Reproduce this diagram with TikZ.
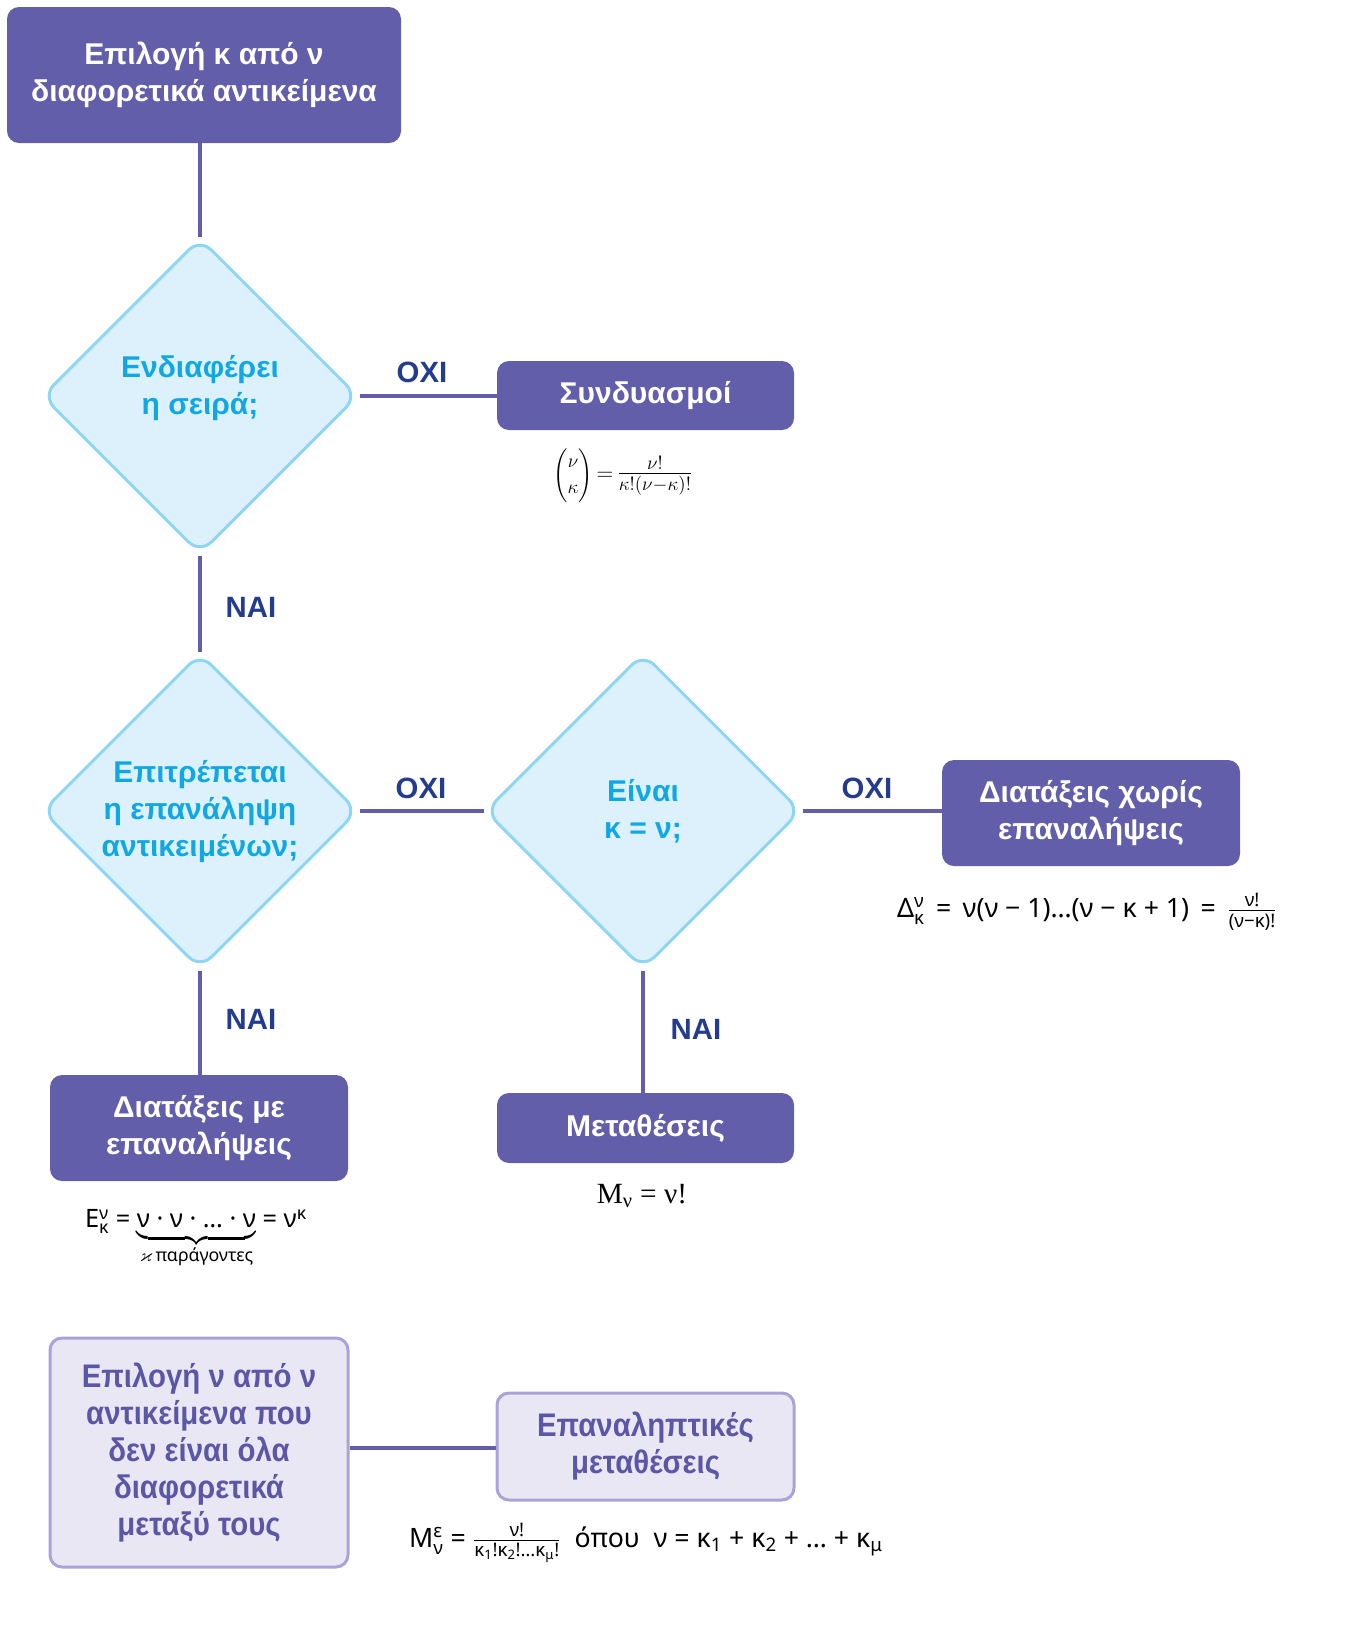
\documentclass[tikz,border=0pt]{standalone}
\usepackage{amsmath,amssymb}
\usepackage{fontspec}
\usetikzlibrary{shapes.geometric}
\newfontfamily\lsans{Liberation Sans}
\newfontfamily\nsans[FakeStretch=0.9]{Liberation Sans}
\newfontfamily\fsans{Noto Sans}
\newfontfamily\fserif{Liberation Serif}
\definecolor{pur}{RGB}{99,94,170}
\definecolor{diaf}{RGB}{220,241,251}
\definecolor{diad}{RGB}{142,214,244}
\definecolor{cyant}{RGB}{16,168,228}
\definecolor{navyt}{RGB}{36,60,142}
\definecolor{lavf}{RGB}{233,231,243}
\definecolor{lavd}{RGB}{171,163,214}
\definecolor{lavt}{RGB}{92,86,166}
\newcommand{\boxf}{\lsans\bfseries\fontsize{22.5}{27.75}\selectfont}
\newcommand{\nboxf}{\nsans\bfseries\fontsize{24.5}{27.75}\selectfont}
\newcommand{\lblf}{\lsans\bfseries\fontsize{22}{26}\selectfont}
\newcommand{\frmf}{\fsans\fontsize{19}{22}\selectfont}
\tikzset{
  pbox/.style={rectangle, fill=pur, rounded corners=9pt, text=white, font=\boxf, align=center, inner sep=0pt},
  lbox/.style={rectangle, draw=lavd, line width=2.25pt, fill=lavf, rounded corners=9pt, text=lavt, font=\nboxf, align=center, inner sep=0pt},
  dia/.style={diamond, aspect=1, draw=diad, line width=2.25pt, fill=diaf, rounded corners=12pt, text=cyant, font=\boxf, align=center, inner sep=0pt, minimum width=237pt, minimum height=237pt},
  conn/.style={draw=pur, line width=3pt},
  lbl/.style={font=\lblf, text=navyt, inner sep=0pt},
  frm/.style={font=\frmf, inner sep=0pt}
}
\begin{document}
\begin{tikzpicture}[x=0.75pt,y=-0.75pt]
\useasboundingbox (0,0) rectangle (1345,1628);
% boxes
\node[pbox, minimum width=295.5pt, minimum height=102pt] (b1) at (204,75) {Επιλογή κ από ν\\διαφορετικά αντικείμενα};
\node[dia] (d1) at (200,396) {Ενδιαφέρει\\η σειρά;\\[-20pt]\strut};
\node[pbox, minimum width=222.75pt, minimum height=51.75pt] (syn) at (645.5,395.5) {Συνδυασμοί};
\node[dia] (d2) at (200,811) {Επιτρέπεται\\η επανάληψη\\αντικειμένων;};
\node[dia] (d3) at (643,811) {Είναι\\κ = ν;};
\node[pbox, minimum width=223.5pt, minimum height=79.5pt] (dx) at (1091,813) {Διατάξεις χωρίς\\επαναλήψεις};
\node[pbox, minimum width=223.5pt, minimum height=79.5pt] (dme) at (199,1128) {Διατάξεις με\\επαναλήψεις};
\node[pbox, minimum width=222.75pt, minimum height=52.5pt] (met) at (645.5,1128) {Μεταθέσεις};
\node[lbox, minimum width=223.5pt, minimum height=171.75pt] (bl) at (199,1452.5) {Επιλογή ν από ν\\αντικείμενα που\\δεν είναι όλα\\διαφορετικά\\μεταξύ τους};
\node[lbox, minimum width=222.75pt, minimum height=80.25pt] (br) at (645.5,1446.5) {Επαναληπτικές\\μεταθέσεις};
% connectors
\draw[conn] (b1.south -| d1.north) -- (d1.north);
\draw[conn] (d1.east) -- (syn.west |- d1.east);
\draw[conn] (d1.south) -- (d2.north);
\draw[conn] (d2.east) -- (d3.west);
\draw[conn] (d3.east) -- (dx.west |- d3.east);
\draw[conn] (d2.south) -- (d2.south |- dme.north);
\draw[conn] (d3.south) -- (d3.south |- met.north);
\draw[conn] (bl.east |- 0,1448) -- (br.west |- 0,1448);
% labels
\node[lbl] (l1) at (422,372) {ΟΧΙ};
\node[lbl] (l2) at (251,607) {ΝΑΙ};
\node[lbl] (l3) at (421,788) {ΟΧΙ};
\node[lbl] (l4) at (867,788) {ΟΧΙ};
\node[lbl] (l5) at (251,1019) {ΝΑΙ};
\node[lbl] (l6) at (696,1029) {ΝΑΙ};
% formulas
\node[frm] (f1) at (623,476) {{\fontsize{13.5}{16}\selectfont$\dbinom{\nu}{\kappa}$}{\fontsize{18}{21}\selectfont\,$=$\,}{\fontsize{21}{24}\selectfont$\frac{\nu!}{\kappa!(\nu-\kappa)!}$}};
\node[frm, font=\fsans\fontsize{20}{23}\selectfont] (f2) at (1087,912) {Δ$^{\text{\fsans ν}}_{\text{\fsans κ}}$ \,=\, ν(ν − 1)…(ν − κ + 1) \,=\, $\frac{\text{\fsans ν!}}{\text{\fsans (ν−κ)!}}$};
\node[frm] (f3) at (196,1239) {Ε$^{\text{\fsans ν}}_{\text{\fsans κ}}$ = $\underbrace{\text{\fsans ν · ν · … · ν}\rule[-4pt]{0pt}{4pt}}_{\varkappa\,\text{\fsans παράγοντες}}$ = ν$^{\text{\fsans κ}}$};
\node[frm, font=\fserif\fontsize{22}{26}\selectfont] (f4) at (642,1196) {Μ$_{\text{\fserif ν}}$ = ν!};
\node[frm, font=\fsans\fontsize{20}{23}\selectfont] (f5) at (646,1543) {Μ$^{\text{\fsans ε}}_{\text{\fsans ν}}$ = $\frac{\text{\fsans ν!}}{\text{\fsans κ$_{\text{1}}$!κ$_{\text{2}}$!…κ$_{\text{μ}}$!}}$ \ όπου \ ν = κ$_{\text{1}}$ + κ$_{\text{2}}$ + … + κ$_{\text{μ}}$};
\end{tikzpicture}
\end{document}
